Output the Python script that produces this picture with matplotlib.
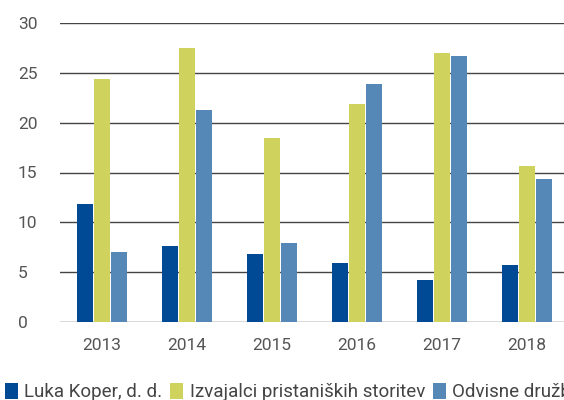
import numpy as np
import matplotlib
matplotlib.use("Agg")
import matplotlib.pyplot as plt

years = ["2013", "2014", "2015", "2016", "2017", "2018"]
luka_koper = [11.8, 7.6, 6.8, 5.9, 4.2, 5.7]
izvajalci = [24.4, 27.5, 18.5, 21.9, 27.0, 15.7]
odvisne = [7.0, 21.3, 7.9, 23.9, 26.7, 14.3]

series = [
    ("Luka Koper, d. d.", luka_koper, "#004994"),
    ("Izvajalci pristaniških storitev", izvajalci, "#cfd25c"),
    ("Odvisne družbe", odvisne, "#5588b6"),
]

plt.rcParams["font.family"] = ["Roboto", "DejaVu Sans"]

fig = plt.figure(figsize=(5.64, 4.0), dpi=100)
ax = fig.add_axes([59.5 / 564, 1 - 321.7 / 400, 510 / 564, (321.7 - 23.3) / 400])

x = np.arange(len(years))
width = 0.19
gap = 0.012
for i, (label, vals, color) in enumerate(series):
    ax.bar(x + (i - 1) * (width + gap), vals, width, color=color, label=label, zorder=3)

ax.set_xlim(-0.5, len(years) - 0.5)
ax.set_ylim(0, 30)
ax.set_yticks(range(0, 31, 5))
ax.set_xticks(x)
ax.set_xticklabels(years)
ax.yaxis.grid(True, color="#444444", linewidth=1.0)
ax.set_axisbelow(True)
for spine in ax.spines.values():
    spine.set_visible(False)
ax.tick_params(length=0, labelsize=12.5, colors="#555555")
ax.tick_params(axis="x", pad=12)
ax.tick_params(axis="y", pad=30)
for lbl in ax.get_yticklabels():
    lbl.set_horizontalalignment("left")

fig.legend(loc="lower left", bbox_to_anchor=(-0.005, -0.022), ncol=3, frameon=False,
           fontsize=13.5, handlelength=0.7, handleheight=0.9, handletextpad=0.35,
           columnspacing=0.4, labelcolor="#444444", borderaxespad=0)

fig.savefig("out.png", dpi=100)
